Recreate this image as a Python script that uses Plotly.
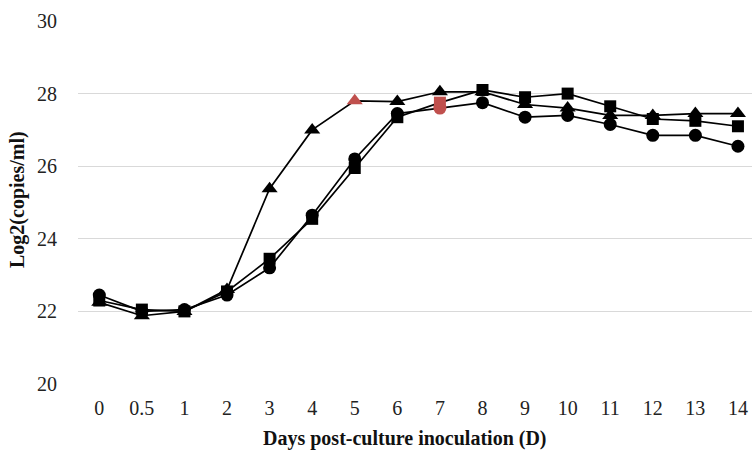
import plotly.graph_objects as go

days = ["0", "0.5", "1", "2", "3", "4", "5", "6", "7", "8", "9", "10", "11", "12", "13", "14"]
tri_vals = [22.25, 21.88, 22.0, 22.6, 25.38, 27.0, 27.8, 27.78, 28.05, 28.05, 27.7, 27.6, 27.4, 27.4, 27.45, 27.45]
cir_vals = [22.45, 22.0, 22.05, 22.45, 23.2, 24.65, 26.2, 27.45, 27.6, 27.75, 27.35, 27.4, 27.15, 26.85, 26.85, 26.55]
sq_vals = [22.3, 22.05, 22.0, 22.55, 23.45, 24.55, 25.95, 27.35, 27.75, 28.1, 27.9, 28.0, 27.65, 27.3, 27.25, 27.1]
tri_red = ["5"]
cir_red = ["7"]
sq_red = ["7"]
x_title = "Days post-culture inoculation (D)"
y_title = "Log2(copies/ml)"

BLACK = "#000000"
RED = "#c0504d"

def colors(red_days):
    return [RED if d in red_days else BLACK for d in days]

fig = go.Figure()
fig.add_trace(go.Scatter(x=days, y=tri_vals, mode="lines+markers",
                         line=dict(color=BLACK, width=1.7),
                         marker=dict(symbol="triangle-up", size=14, color=colors(tri_red), line=dict(width=0)),
                         showlegend=False))
fig.add_trace(go.Scatter(x=days, y=cir_vals, mode="lines+markers",
                         line=dict(color=BLACK, width=1.7),
                         marker=dict(symbol="circle", size=13, color=colors(cir_red), line=dict(width=0)),
                         showlegend=False))
fig.add_trace(go.Scatter(x=days, y=sq_vals, mode="lines+markers",
                         line=dict(color=BLACK, width=1.7),
                         marker=dict(symbol="square", size=12, color=colors(sq_red), line=dict(width=0)),
                         showlegend=False))

fig.update_layout(
    width=752, height=453,
    margin=dict(l=78, r=0, t=21, b=69),
    paper_bgcolor="white", plot_bgcolor="white",
    font=dict(family="Liberation Serif, Times New Roman, serif", color="#222", size=20),
    xaxis=dict(type="category", range=[-0.5, 15.33], showgrid=False, zeroline=False,
               showline=False, ticks="outside", ticklen=6, tickcolor="rgba(0,0,0,0)",
               tickfont=dict(size=20, color="#222")),
    yaxis=dict(range=[20, 30], dtick=2, showgrid=True, gridcolor="#d9d9d9", gridwidth=1,
               zeroline=False, showline=False, ticks="outside", ticklen=16, tickcolor="rgba(0,0,0,0)",
               tickfont=dict(size=20, color="#222")),
    annotations=[
        dict(text="<b>" + x_title + "</b>", xref="paper", yref="paper",
             x=(405 - 78) / 674, y=-(438 - 384) / 363, xanchor="center", yanchor="middle",
             showarrow=False, font=dict(size=20, color="#111")),
        dict(text="<b>" + y_title + "</b>", xref="paper", yref="paper",
             x=-(78 - 17) / 674, y=(384 - 200) / 363, xanchor="center", yanchor="middle",
             textangle=-90, showarrow=False, font=dict(size=20, color="#111")),
    ],
)

fig.write_html("out.html")
